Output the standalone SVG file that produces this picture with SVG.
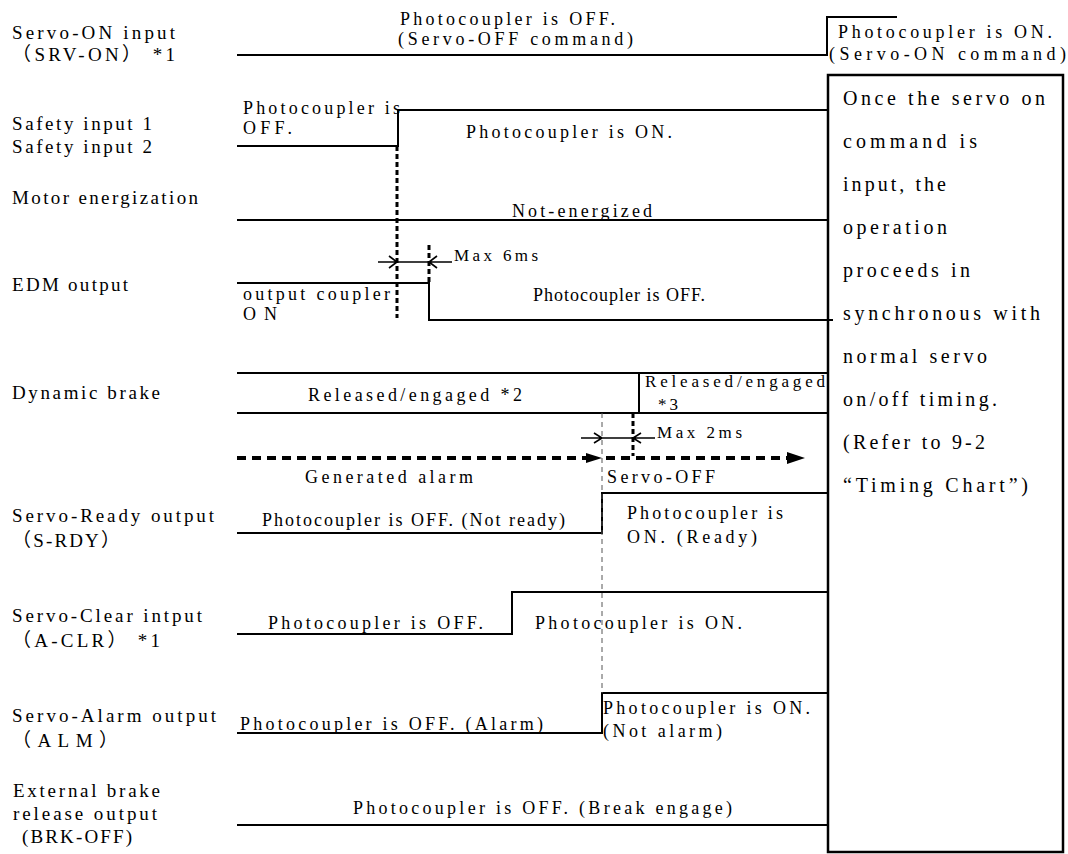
<svg xmlns="http://www.w3.org/2000/svg" width="1068" height="854" viewBox="0 0 1068 854">
<defs>
<style>
text{font-family:"Liberation Serif","Times New Roman","Noto Sans CJK JP",serif;fill:#000;font-size:18px}
.lb{font-size:19px}
.bx{font-size:20px}
.sm{font-size:17px}
.sig{fill:none;stroke:#000;stroke-width:2}
.dot{fill:none;stroke:#000;stroke-width:3;stroke-dasharray:5 3}
.thin{fill:none;stroke:#555;stroke-width:1;stroke-dasharray:5 4}
.dim{fill:none;stroke:#000;stroke-width:1.6}
.big{fill:none;stroke:#000;stroke-width:4;stroke-dasharray:9 6}
</style>
</defs>
<rect width="1068" height="854" fill="#fff"/>

<g id="srv-on">
<text class="lb" x="12" y="39" textLength="163" lengthAdjust="spacing">Servo-ON input</text>
<text class="lb" x="12" y="61" textLength="163" lengthAdjust="spacing">（SRV-ON） *1</text>
<path class="sig" d="M237,55 H827 V17 H897"/>
<text x="400" y="25" textLength="215" lengthAdjust="spacing">Photocoupler is OFF.</text>
<text x="398" y="45" textLength="235" lengthAdjust="spacing">(Servo-OFF command)</text>
<text x="838" y="38" textLength="214" lengthAdjust="spacing">Photocoupler is ON.</text>
<text x="829" y="60" textLength="237" lengthAdjust="spacing">(Servo-ON command)</text>
</g>

<g id="safety">
<text class="lb" x="12" y="130" textLength="140" lengthAdjust="spacing">Safety input 1</text>
<text class="lb" x="12" y="153" textLength="140" lengthAdjust="spacing">Safety input 2</text>
<path class="sig" d="M237,146 H398 V110 H828"/>
<text x="243" y="114" textLength="157" lengthAdjust="spacing">Photocoupler is</text>
<text x="243" y="134" textLength="49" lengthAdjust="spacing">OFF.</text>
<text x="466" y="138" textLength="206" lengthAdjust="spacing">Photocoupler is ON.</text>
</g>

<g id="motor">
<text class="lb" x="12" y="204" textLength="186" lengthAdjust="spacing">Motor energization</text>
<path class="sig" d="M237,220 H828"/>
<text x="512" y="217" textLength="140" lengthAdjust="spacing">Not-energized</text>
</g>

<g id="edm">
<text class="lb" x="12" y="291" textLength="116" lengthAdjust="spacing">EDM output</text>
<path class="sig" d="M237,283 H429 V320 H833"/>
<text x="243" y="300" textLength="147" lengthAdjust="spacing">output coupler</text>
<text x="243" y="320" textLength="34" lengthAdjust="spacing">ON</text>
<text x="533" y="301" textLength="172" lengthAdjust="spacing">Photocoupler is OFF.</text>
</g>

<g id="dynamic-brake">
<text class="lb" x="12" y="399" textLength="148" lengthAdjust="spacing">Dynamic brake</text>
<path class="sig" d="M237,373 H828 M237,413 H828 M639,373 V413"/>
<text x="308" y="401" textLength="214" lengthAdjust="spacing">Released/engaged *2</text>
<text class="sm" x="645" y="387" textLength="180" lengthAdjust="spacing">Released/engaged</text>
<text class="sm" x="658" y="410" textLength="20" lengthAdjust="spacing">*3</text>
</g>

<g id="alarm-event">
<text x="305" y="483" textLength="168" lengthAdjust="spacing">Generated alarm</text>
<text x="607" y="483" textLength="108" lengthAdjust="spacing">Servo-OFF</text>
</g>

<g id="s-rdy">
<text class="lb" x="12" y="522" textLength="202" lengthAdjust="spacing">Servo-Ready output</text>
<text class="lb" x="12" y="547" textLength="108" lengthAdjust="spacing">（S-RDY）</text>
<path class="sig" d="M237,533 H602 V493 H828"/>
<text x="262" y="526" textLength="303" lengthAdjust="spacing">Photocoupler is OFF. (Not ready)</text>
<text x="627" y="519" textLength="156" lengthAdjust="spacing">Photocoupler is</text>
<text x="627" y="543" textLength="130" lengthAdjust="spacing">ON. (Ready)</text>
</g>

<g id="a-clr">
<text class="lb" x="12" y="622" textLength="190" lengthAdjust="spacing">Servo-Clear intput</text>
<text class="lb" x="12" y="647" textLength="148" lengthAdjust="spacing">（A-CLR） *1</text>
<path class="sig" d="M237,634 H512 V592 H828"/>
<text x="268" y="629" textLength="215" lengthAdjust="spacing">Photocoupler is OFF.</text>
<text x="535" y="629" textLength="207" lengthAdjust="spacing">Photocoupler is ON.</text>
</g>

<g id="alm">
<text class="lb" x="12" y="722" textLength="204" lengthAdjust="spacing">Servo-Alarm output</text>
<text class="lb" x="12" y="747" textLength="106" lengthAdjust="spacing">（ALM）</text>
<path class="sig" d="M237,733 H602 V693 H828"/>
<text x="240" y="730" textLength="303" lengthAdjust="spacing">Photocoupler is OFF. (Alarm)</text>
<text x="603" y="714" textLength="207" lengthAdjust="spacing">Photocoupler is ON.</text>
<text x="603" y="737" textLength="119" lengthAdjust="spacing">(Not alarm)</text>
</g>

<g id="brk-off">
<text class="lb" x="13" y="797" textLength="147" lengthAdjust="spacing">External brake</text>
<text class="lb" x="13" y="820" textLength="144" lengthAdjust="spacing">release output</text>
<text class="lb" x="22" y="843" textLength="110" lengthAdjust="spacing">(BRK-OFF)</text>
<path class="sig" d="M237,825 H828"/>
<text x="353" y="814" textLength="379" lengthAdjust="spacing">Photocoupler is OFF. (Break engage)</text>
</g>

<g id="note-box">
<rect x="828" y="75" width="235" height="777" fill="none" stroke="#000" stroke-width="2.5"/>
<text class="bx" x="843" y="105" textLength="202" lengthAdjust="spacing">Once the servo on</text>
<text class="bx" x="843" y="148" textLength="134" lengthAdjust="spacing">command is</text>
<text class="bx" x="843" y="191" textLength="103" lengthAdjust="spacing">input, the</text>
<text class="bx" x="843" y="234" textLength="104" lengthAdjust="spacing">operation</text>
<text class="bx" x="843" y="277" textLength="127" lengthAdjust="spacing">proceeds in</text>
<text class="bx" x="843" y="320" textLength="197" lengthAdjust="spacing">synchronous with</text>
<text class="bx" x="843" y="363" textLength="144" lengthAdjust="spacing">normal servo</text>
<text class="bx" x="843" y="406" textLength="154" lengthAdjust="spacing">on/off timing.</text>
<text class="bx" x="843" y="449" textLength="142" lengthAdjust="spacing">(Refer to 9-2</text>
<text class="bx" x="843" y="492" textLength="185" lengthAdjust="spacing">“Timing Chart”)</text>
</g>

<g id="connectors">
<path class="dot" d="M397,146 V318"/>
<path class="dot" d="M429,245 V283"/>
<path class="dim" d="M378,262 H452 M389,256 L397,262 L389,268 M437,256 L429,262 L437,268"/>
<text class="sm" x="454" y="261" textLength="84" lengthAdjust="spacing">Max 6ms</text>
<path class="thin" d="M602,413 V693"/>
<path class="dot" d="M633,413 V456"/>
<path class="dim" d="M581,438 H655 M594,433 L602,438 L594,443 M641,433 L633,438 L641,443"/>
<text class="sm" x="657" y="438" textLength="85" lengthAdjust="spacing">Max 2ms</text>
<path class="big" d="M237,458 H590 M606,458 H790"/>
<polygon points="586,453 602,458 586,463" fill="#000"/>
<polygon points="787,452 805,458 787,464" fill="#000"/>
</g>
</svg>
